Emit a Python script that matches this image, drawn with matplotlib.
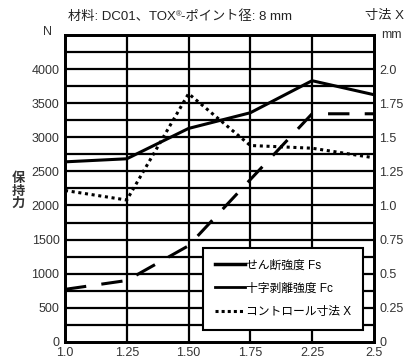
import matplotlib.pyplot as plt
from matplotlib.lines import Line2D
from matplotlib.text import Annotation

plt.rcParams['font.family'] = ['Liberation Sans', 'Noto Sans CJK JP', 'DejaVu Sans']

# Données
x_labels = ["1.0", "1.25", "1.50", "1.75", "2.25", "2.5"]
fs = [2640, 2685, 3130, 3360, 3830, 3625]        # せん断強度 Fs (N)
fc = [770, 900, 1410, 2380, 3345, 3345]          # 十字剥離強度 Fc (N)
x_dim = [1.11, 1.04, 1.82, 1.44, 1.42, 1.35]     # コントロール寸法 X (mm)

fig = plt.figure(figsize=(4.09, 3.61), dpi=100)
ax = fig.add_axes([0.159, 0.053, 0.755, 0.850])
ax2 = ax.twinx()

pos = list(range(len(x_labels)))

ax.plot(pos, fs, color='black', lw=2.2, solid_capstyle='butt')
ax.plot(pos, fc, color='black', lw=2.2, dashes=(7, 5))
ax2.plot(pos, x_dim, color='black', lw=2.2, dashes=(1, 1.2))

ax.set_xlim(0, 5)
ax.set_ylim(0, 4500)
ax2.set_ylim(0, 2.25)

# Grille
for y in range(250, 4500, 250):
    ax.axhline(y, color='black', lw=1.6, zorder=0)
for xv in pos[1:-1]:
    ax.axvline(xv, color='black', lw=1.6, zorder=0)

ax.set_xticks(pos)
ax.set_xticklabels(x_labels)
ax.set_yticks(range(0, 4001, 500))
ax.set_yticklabels([str(v) for v in range(0, 4001, 500)])
ax2.set_yticks([0, 0.25, 0.5, 0.75, 1.0, 1.25, 1.5, 1.75, 2.0])
ax2.set_yticklabels(["0", "0.25", "0.5", "0.75", "1.0", "1.25", "1.5", "1.75", "2.0"])

for a in (ax, ax2):
    a.tick_params(length=0, labelsize=9, colors='#333333', pad=4)
    for s in a.spines.values():
        s.set_linewidth(2)
        s.set_color('black')

# Titre en trois morceaux (® en exposant)
t1 = fig.text(0.166, 0.935, "材料: DC01、TOX", ha='left', va='bottom',
              fontsize=9.5, color='#222222')
t2 = fig.add_artist(Annotation("®", xy=(1, 0.45), xycoords=t1, ha='left', va='bottom',
                               fontsize=5.5, color='#222222'))
fig.add_artist(Annotation("-ポイント径: 8 mm", xy=(1, 0), xycoords=(t2, t1),
                          ha='left', va='bottom', fontsize=9.5, color='#222222'))
fig.text(0.94, 0.957, "寸法 X", ha='center', va='center', fontsize=9.5, color='#222222')
fig.text(0.115, 0.91, "N", ha='center', va='center', fontsize=9, color='#333333')
fig.text(0.958, 0.903, "mm", ha='center', va='center', fontsize=9, color='#333333')
fig.text(0.045, 0.47, "保\n持\n力", ha='center', va='center', fontsize=9.5,
         linespacing=1.0, fontweight='bold', color='#333333')

# Légende
handles = [Line2D([], [], color='black', lw=2.5),
           Line2D([], [], color='black', lw=2.0),
           Line2D([], [], color='black', lw=2.2, dashes=(1, 1))]
leg = ax.legend(handles, ["せん断強度 Fs", "十字剥離強度 Fc", "コントロール寸法 X"],
                loc='lower right', bbox_to_anchor=(0.966, 0.04), fontsize=8.5,
                frameon=True, fancybox=False, edgecolor='black', framealpha=1,
                handlelength=2.6, handletextpad=0.1, borderpad=1.0, labelspacing=0.95,
                borderaxespad=0)
leg.get_frame().set_linewidth(1.5)
leg.set_zorder(5)

fig.savefig("out.png", dpi=100)
